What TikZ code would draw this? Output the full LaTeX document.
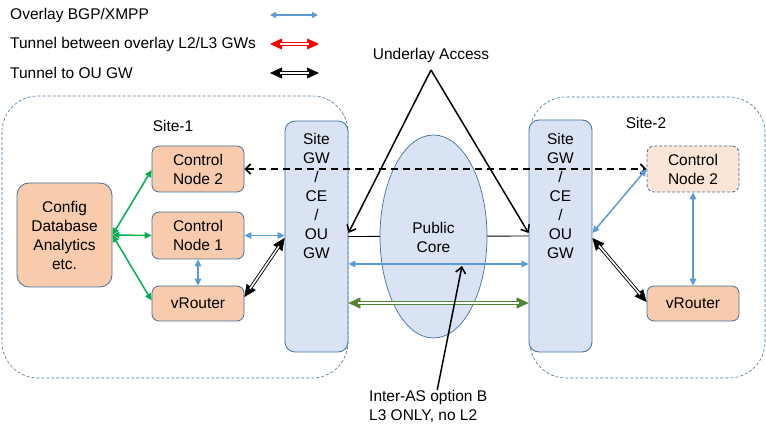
\documentclass[tikz,border=0pt]{standalone}
\usepackage{fontspec}
\setmainfont{Liberation Sans}
\usetikzlibrary{arrows.meta,shapes.geometric,calc}
\definecolor{bxborder}{HTML}{41719C}
\definecolor{peach}{HTML}{F8CBAD}
\definecolor{lpeach}{HTML}{FBE5D6}
\definecolor{gwfill}{HTML}{DAE3F3}
\definecolor{ovblue}{HTML}{5B9BD5}
\definecolor{cgreen}{HTML}{00B050}
\definecolor{dkgreen}{HTML}{548235}
\tikzset{
  txt/.style={font=\fontsize{15.5}{19}\selectfont, align=center, inner sep=0pt},
  pbox/.style={txt, draw=bxborder, line width=0.8pt, fill=peach, rounded corners=7pt, minimum width=92pt},
  gwbox/.style={draw=bxborder, line width=0.8pt, fill=gwfill, rounded corners=10pt, minimum width=63pt, inner sep=0pt},
  sitebox/.style={draw=bxborder, dashed, dash pattern=on 3pt off 2pt, line width=0.6pt, rounded corners=36pt},
  ovarrow/.style={draw=ovblue, line width=1.5pt, {Triangle[length=7pt,width=6.5pt]}-{Triangle[length=7pt,width=6.5pt]}},
  grarrow/.style={draw=cgreen, line width=1.5pt, {Triangle[length=7pt,width=6.5pt]}-{Triangle[length=7pt,width=6.5pt]}},
  tunheads/.style={line width=0.5pt, {Triangle[length=12pt,width=11pt]}-{Triangle[length=12pt,width=11pt]}},
  tunline/.style={line width=0.9pt, double=white, double distance=1.6pt, shorten <=10pt, shorten >=10pt},
  ularrow/.style={draw=black, line width=1.5pt, -{Straight Barb[length=6pt,width=10pt]}},
}
\newcommand\tunnelarrow[3]{%
  \draw[#1, tunheads] #2 -- #3;
  \draw[#1, tunline] #2 -- #3;}
\begin{document}
\begin{tikzpicture}[x=1pt,y=-1pt]
\useasboundingbox (0,0) rectangle (766,438);
% sites
\draw[sitebox] (2,96) rectangle (348,378);
\draw[sitebox] (530,97) rectangle (765,378);
\node[txt] (site1) at (173,126) {Site-1};
\node[txt] (site2) at (646,123) {Site-2};
% legend
\node[txt, anchor=west] (lg1) at (10,15) {Overlay BGP/XMPP};
\node[txt, anchor=west] (lg2) at (10,44) {Tunnel between overlay L2/L3 GWs};
\node[txt, anchor=west] (lg3) at (10,73) {Tunnel to OU GW};
\coordinate (l1a) at (270,15); \coordinate (l1b) at (318,15);
\coordinate (l2a) at (270,44); \coordinate (l2b) at (319,44);
\coordinate (l3a) at (270,73); \coordinate (l3b) at (319,73);
\draw[ovblue, line width=1.2pt, {Triangle[length=6pt,width=6pt]}-{Triangle[length=6pt,width=6pt]}] (l1a) -- (l1b);
\tunnelarrow{red}{(l2a)}{(l2b)}
\tunnelarrow{black}{(l3a)}{(l3b)}
% gateways
\node[gwbox, minimum height=231pt] (gw1) at (316.5,236.5) {};
\node[gwbox, minimum height=232pt] (gw2) at (560.5,236) {};
\node[txt, anchor=north] (gw1t) at (316.5,133) {Site\\GW\\/\\CE\\/\\OU\\GW};
\node[txt, anchor=north] (gw2t) at (560.5,133) {Site\\GW\\/\\CE\\/\\OU\\GW};
% underlay horizontal line (behind core)
\draw[black, line width=0.9pt] (gw1.east) -- (gw2.west);
% core
\node[ellipse, draw=bxborder, line width=0.7pt, fill=gwfill, minimum width=107pt, minimum height=203pt, inner sep=0pt] (core) at (433.5,236.5) {};
\node[txt] (coret) at (433.5,237) {Public\\Core};
% site-1 nodes
\node[pbox, minimum width=95pt, minimum height=104pt, rounded corners=12pt] (cfg) at (64.5,235) {Config\\Database\\Analytics\\etc.};
\node[pbox, minimum height=46pt] (cn2) at (198,169) {Control\\Node 2};
\node[pbox, minimum height=47pt] (cn1) at (198,235.5) {Control\\Node 1};
\node[pbox, minimum height=35pt] (vr1) at (198,303.5) {vRouter};
% site-2 nodes
\node[pbox, fill=lpeach, dashed, dash pattern=on 3pt off 2pt, minimum height=46pt] (s2cn2) at (693,169) {Control\\Node 2};
\node[pbox, minimum height=35pt] (s2vr) at (693,303.5) {vRouter};
% green
\draw[grarrow] (cfg.east) -- ([yshift=-1pt]cn2.west);
\draw[grarrow] (cfg.east) -- (cn1.west);
\draw[grarrow] (cfg.east) -- ([yshift=3pt]vr1.west);
% blue site-1
\draw[ovarrow] (cn1.east) -- (cn1.east -| gw1.west);
\draw[ovarrow] (cn1.south) -- (vr1.north);
\tunnelarrow{black}{([yshift=6.5pt]vr1.east)}{([yshift=-1.5pt]gw1.west)}
% dashed
\draw[black, line width=1.8pt, dash pattern=on 7pt off 5pt, {Straight Barb[length=5pt,width=10pt]}-{Straight Barb[length=5pt,width=10pt]}] (cn2.east) -- (s2cn2.west);
% underlay
\node[txt] (ua) at (431,55) {Underlay Access};
\coordinate (apex) at (431,70);
\draw[ularrow, line join=miter] (apex) -- ([yshift=3.5pt]gw1.east);
\draw[ularrow, line join=miter] (apex) -- ([yshift=3pt]gw2.west);
% across
\draw[ovarrow] ([yshift=-27.5pt]gw1.east) -- ([yshift=-28pt]gw2.west);
\tunnelarrow{dkgreen}{([yshift=-66.5pt]gw1.east)}{([yshift=-67pt]gw2.west)}
% inter-AS
\node[txt, align=left, anchor=north west] (ias) at (369,390) {Inter-AS option B\\L3 ONLY, no L2};
\coordinate (iastip) at (462,266);
\draw[black, line width=1.5pt, -{Straight Barb[length=6pt,width=10pt]}] ([xshift=9pt]ias.north) -- (iastip);
% site-2 arrows
\draw[ovarrow] ([yshift=3pt]gw2.east) -- (s2cn2.west);
\draw[ovarrow] (s2cn2.south) -- (s2vr.north);
\tunnelarrow{black}{([yshift=-2pt]gw2.east)}{([yshift=1.5pt]s2vr.west)}
\end{tikzpicture}
\end{document}
